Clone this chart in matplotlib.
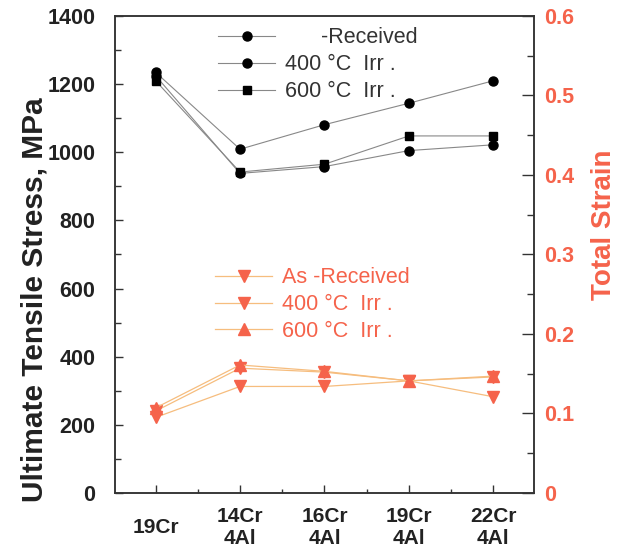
import numpy as np
import matplotlib
matplotlib.use('Agg')
import matplotlib.pyplot as plt
from matplotlib.ticker import MultipleLocator, FixedLocator

plt.rcParams['font.family'] = ['Liberation Sans', 'DejaVu Sans']

# categories along x
alloys = ['19Cr', '14Cr\n4Al', '16Cr\n4Al', '19Cr\n4Al', '22Cr\n4Al']

# ultimate tensile stress, MPa (left axis)
uts_as_received = [1235, 1009, 1081, 1144, 1210]
uts_400 = [1225, 938, 958, 1005, 1022]
uts_600 = [1210, 942, 965, 1048, 1048]

# total strain (right axis)
strain_as_received = [0.095, 0.134, 0.134, 0.141, 0.121]
strain_400 = [0.103, 0.157, 0.152, 0.141, 0.146]
strain_600 = [0.107, 0.161, 0.153, 0.141, 0.147]

uts_labels = ['      -Received', '400 °C  Irr .', '600 °C  Irr .']
strain_labels = ['As -Received', '400 °C  Irr .', '600 °C  Irr .']

RED = '#f5634b'
ORANGE = '#f6bd7e'
DARK = '#222222'

fig = plt.figure(figsize=(6.17, 5.48), dpi=100)
ax = fig.add_axes([0.1864, 0.1004, 0.679, 0.8704])
ax2 = ax.twinx()

x = np.arange(len(alloys))

# black series
ax.plot(x, uts_as_received, '-o', color='#888888', lw=0.8, mfc='black', mec='black', ms=6.5,
        label=uts_labels[0])
ax.plot(x, uts_400, '-o', color='#888888', lw=0.8, mfc='black', mec='black', ms=6.5,
        label=uts_labels[1])
ax.plot(x, uts_600, '-s', color='#888888', lw=0.8, mfc='black', mec='black', ms=6,
        label=uts_labels[2])

# red series
ax2.plot(x, strain_as_received, '-v', color=ORANGE, lw=0.9, mfc=RED, mec=RED, ms=8,
         label=strain_labels[0])
ax2.plot(x, strain_400, '-v', color=ORANGE, lw=0.9, mfc=RED, mec=RED, ms=8,
         label=strain_labels[1])
ax2.plot(x, strain_600, '-^', color=ORANGE, lw=0.9, mfc=RED, mec=RED, ms=8,
         label=strain_labels[2])

ax.set_xlim(-0.48, 4.48)
ax.set_ylim(0, 1400)
ax2.set_ylim(0, 0.6)

ax.set_xticks(x)
ax.set_xticklabels(alloys, fontsize=15, fontweight='bold', linespacing=1.2)
for lab in ax.get_xticklabels():
    lab.set_va('center')
ax.xaxis.set_minor_locator(FixedLocator([0.5, 1.5, 2.5, 3.5]))

ax.set_yticks(np.arange(0, 1401, 200))
ax.yaxis.set_minor_locator(MultipleLocator(100))
ax.set_yticklabels([str(v) for v in np.arange(0, 1401, 200)], fontsize=15.5, fontweight='bold')

ax2.set_yticks([0, 0.1, 0.2, 0.3, 0.4, 0.5, 0.6])
ax2.yaxis.set_minor_locator(MultipleLocator(0.05))
ax2.set_yticklabels(['0', '0.1', '0.2', '0.3', '0.4', '0.5', '0.6'], fontsize=15.5,
                    fontweight='bold')

ax.tick_params(axis='x', which='major', direction='in', length=6, width=1, pad=25, colors='#333333')
ax.tick_params(axis='x', which='minor', direction='in', length=3, width=1, colors='#333333')
ax.tick_params(axis='y', which='major', direction='in', length=6, width=1, pad=14, colors='#333333')
ax.tick_params(axis='y', which='minor', direction='in', length=4, width=1, colors='#333333')
ax2.tick_params(axis='y', which='major', direction='in', length=9, width=1, pad=7, colors='#333333')
ax2.tick_params(axis='y', which='minor', direction='in', length=5, width=1, colors='#333333')
for lab in ax.get_xticklabels() + ax.get_yticklabels():
    lab.set_color(DARK)
for lab in ax2.get_yticklabels():
    lab.set_color(RED)

for a in (ax, ax2):
    for sp in a.spines.values():
        sp.set_color('#333333')
        sp.set_linewidth(1.1)

ax.set_ylabel('Ultimate Tensile Stress, MPa', fontsize=21.5, fontweight='bold', color=DARK)
ax.yaxis.set_label_coords(-0.158, 0.405)
ax2.set_ylabel('Total Strain', fontsize=20, fontweight='bold', color=RED)
ax2.yaxis.set_label_coords(1.136, 0.562)

leg1 = ax.legend(loc='upper left', bbox_to_anchor=(0.246, 0.976), frameon=False, fontsize=15.5,
                 handlelength=2.65, handletextpad=0.47, labelspacing=0.27, borderpad=0,
                 borderaxespad=0, labelcolor='#333333')
leg2 = ax2.legend(loc='upper left', bbox_to_anchor=(0.239, 0.473), frameon=False, fontsize=15.5,
                  handlelength=2.65, handletextpad=0.47, labelspacing=0.27, borderpad=0,
                  borderaxespad=0, labelcolor=RED)

fig.savefig('out.png', dpi=100)
